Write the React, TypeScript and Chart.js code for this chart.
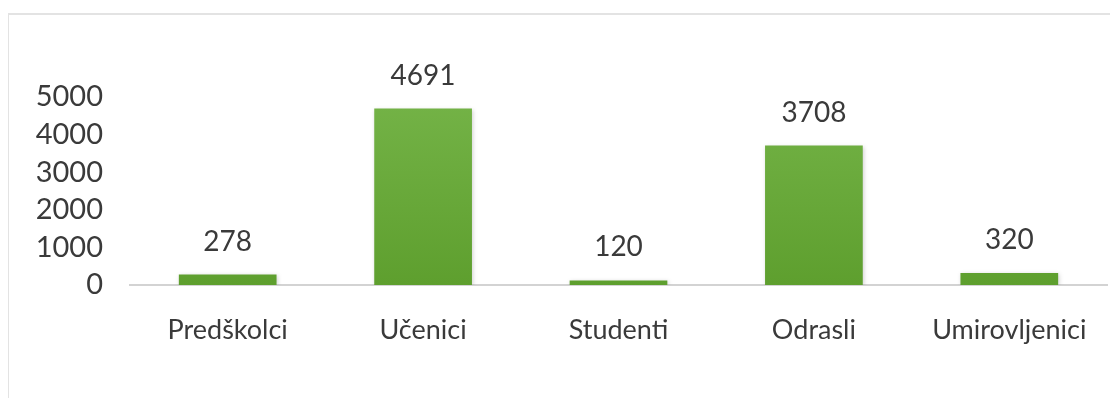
import React, { useEffect, useRef } from "react";
import { Chart, registerables } from "chart.js";

Chart.register(...registerables);

const categories = ["Predškolci", "Učenici", "Studenti", "Odrasli", "Umirovljenici"];
const values = [278, 4691, 120, 3708, 320];
const yTicks = [0, 1000, 2000, 3000, 4000, 5000];

const FONT = "Lato, 'Open Sans', sans-serif";
const TEXT = "#3a3a3a";

const valueLabels = {
  id: "valueLabels",
  afterDatasetsDraw(chart: any) {
    const ctx = chart.ctx;
    const meta = chart.getDatasetMeta(0);
    ctx.save();
    ctx.fillStyle = TEXT;
    ctx.font = `28px ${FONT}`;
    ctx.textAlign = "center";
    ctx.textBaseline = "alphabetic";
    meta.data.forEach((bar: any, i: number) => {
      ctx.fillText(String(values[i]), bar.x, bar.y - 24);
    });
    ctx.restore();
  },
};

const barShadow = {
  id: "barShadow",
  beforeDatasetsDraw(chart: any) {
    const ctx = chart.ctx;
    ctx.save();
    ctx.shadowColor = "rgba(0,0,0,0.18)";
    ctx.shadowBlur = 4;
    ctx.shadowOffsetX = 1;
    ctx.shadowOffsetY = 1;
  },
  afterDatasetsDraw(chart: any) {
    chart.ctx.restore();
  },
};

export default function App() {
  const ref = useRef<HTMLCanvasElement>(null);
  useEffect(() => {
    const canvas = ref.current!;
    const chart = new Chart(canvas, {
      type: "bar",
      data: {
        labels: categories,
        datasets: [
          {
            data: values,
            backgroundColor: (c: any) => {
              const area = c.chart.chartArea;
              if (!area) return "#6aab3a";
              const g = c.chart.ctx.createLinearGradient(0, area.top, 0, area.bottom);
              g.addColorStop(0, "#74b347");
              g.addColorStop(1, "#5e9f2e");
              return g;
            },
            borderWidth: 0,
            categoryPercentage: 1,
            barPercentage: 0.5,
          },
        ],
      },
      options: {
        animation: false,
        responsive: false,
        maintainAspectRatio: false,
        layout: { padding: { top: 97, right: 11, bottom: 0, left: 0 } },
        plugins: { legend: { display: false }, tooltip: { enabled: false } },
        scales: {
          x: {
            grid: { display: false, drawTicks: false },
            border: { display: true, color: "#d3d3d3", width: 2 },
            ticks: { color: TEXT, font: { family: FONT, size: 27 }, padding: 29, maxRotation: 0, autoSkip: false },
            afterFit: (s: any) => {
              s.height = 121;
            },
          },
          y: {
            min: 0,
            max: 5000,
            grid: { display: false, drawTicks: false },
            border: { display: false },
            afterBuildTicks: (s: any) => {
              s.ticks = yTicks.map((v) => ({ value: v }));
            },
            ticks: {
              color: TEXT,
              font: { family: FONT, size: 29 },
              padding: 27,
              autoSkip: false,
              callback: (v: any) => String(v),
            },
            afterFit: (s: any) => {
              s.width = 130;
            },
          },
        },
      },
      plugins: [barShadow, valueLabels],
    });
    return () => chart.destroy();
  }, []);

  return (
    <div style={{ position: "relative", width: 1118, height: 406, margin: -8, overflow: "hidden", background: "#fff" }}>
      <div
        style={{
          position: "absolute",
          left: 7,
          top: 13,
          width: 1120,
          height: 460,
          border: "2px solid #e3e3e3",
          boxSizing: "border-box",
        }}
      />
      <canvas ref={ref} width={1118} height={406} style={{ position: "absolute", left: 0, top: 0 }} />
    </div>
  );
}
